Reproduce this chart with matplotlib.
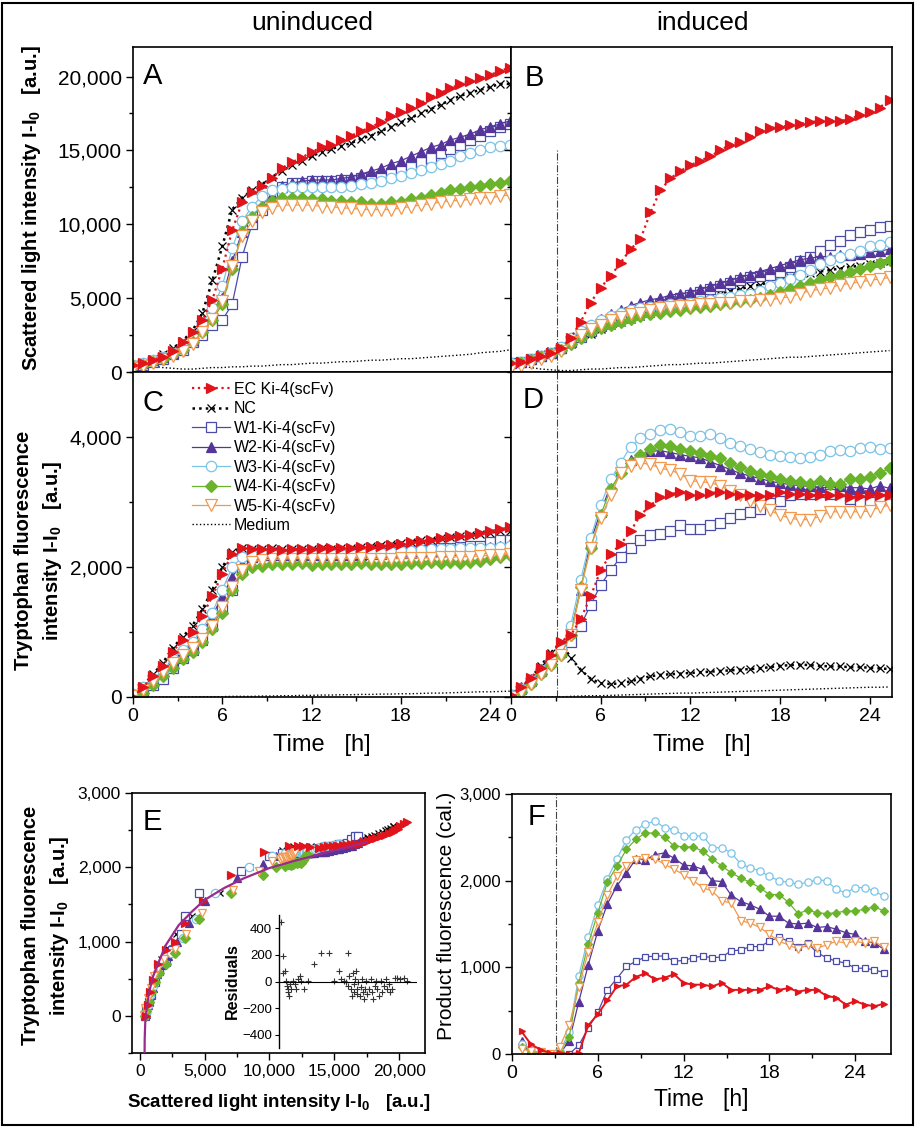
import numpy as np
import matplotlib
matplotlib.use("Agg")
import matplotlib.pyplot as plt
from matplotlib.patches import Rectangle
from matplotlib.ticker import MultipleLocator, FuncFormatter

plt.rcParams["font.family"] = ["Liberation Sans", "DejaVu Sans"]
plt.rcParams["mathtext.fontset"] = "custom"
plt.rcParams["mathtext.rm"] = "Liberation Sans"
plt.rcParams["mathtext.it"] = "Liberation Sans:italic"
plt.rcParams["mathtext.bf"] = "Liberation Sans:bold"

# sampling every 40 min (A-D start at 0 h, F starts at 40 min)
T = np.arange(39) * 40 / 60
T_F = (np.arange(39) + 1) * 40 / 60
INDUCTION_H = 3.1
B_LINE_TOP = 15000

SERIES = ["EC", "NC", "W1", "W2", "W3", "W4", "W5", "MED"]
LABELS = ["EC Ki-4(scFv)", "NC", "W1-Ki-4(scFv)", "W2-Ki-4(scFv)",
          "W3-Ki-4(scFv)", "W4-Ki-4(scFv)", "W5-Ki-4(scFv)", "Medium"]

# --- A: scattered light, uninduced [x1000 a.u.] ---
A_EC = [0.5, 0.6, 0.8, 1.0, 1.4, 2.0, 2.7, 3.5, 4.9, 7.0, 9.6, 11.5, 12.2, 12.6, 13.1, 13.8, 14.2, 14.5, 14.9, 15.2,
        15.4, 15.7, 16.0, 16.3, 16.6, 16.9, 17.3, 17.6, 17.9, 18.2, 18.6, 18.9, 19.2, 19.5, 19.7, 19.9, 20.1, 20.4, 20.6]
A_NC = [0.5, 0.6, 0.9, 1.2, 1.6, 2.1, 2.8, 4.0, 6.2, 8.5, 11.0, 11.8, 12.3, 12.7, 13.2, 13.6, 14.0, 14.3, 14.6, 14.9,
        15.1, 15.3, 15.5, 15.8, 16.0, 16.3, 16.6, 16.9, 17.2, 17.5, 17.8, 18.1, 18.4, 18.7, 18.9, 19.1, 19.3, 19.5, 19.5]
A_W1 = [0.4, 0.5, 0.7, 0.9, 1.2, 1.5, 2.0, 2.5, 3.2, 3.5, 4.6, 7.8, 10.0, 11.0, 11.8, 12.5, 12.8, 12.8, 12.9, 12.9,
        12.9, 13.0, 13.0, 13.1, 13.2, 13.3, 13.5, 13.7, 13.9, 14.2, 14.5, 14.8, 15.1, 15.4, 15.7, 16.0, 16.3, 16.6, 16.8]
A_W2 = [0.5, 0.6, 0.8, 1.0, 1.3, 1.7, 2.2, 2.9, 3.8, 5.0, 7.5, 9.5, 10.5, 11.3, 12.0, 12.6, 12.8, 12.9, 13.0, 13.0,
        13.0, 13.1, 13.2, 13.4, 13.6, 13.8, 14.1, 14.3, 14.6, 14.9, 15.2, 15.4, 15.7, 15.9, 16.1, 16.4, 16.6, 16.8, 17.0]
A_W3 = [0.5, 0.6, 0.8, 1.0, 1.3, 1.7, 2.4, 3.3, 4.3, 5.8, 8.4, 10.2, 11.2, 11.9, 12.3, 12.4, 12.5, 12.5, 12.5, 12.5,
        12.5, 12.5, 12.6, 12.7, 12.8, 12.9, 13.1, 13.3, 13.5, 13.7, 13.9, 14.1, 14.3, 14.6, 14.8, 15.0, 15.2, 15.3, 15.4]
A_W4 = [0.4, 0.5, 0.7, 0.9, 1.2, 1.5, 2.0, 2.7, 3.5, 4.6, 7.0, 9.5, 10.5, 11.2, 11.6, 11.8, 11.8, 11.8, 11.7, 11.7,
        11.6, 11.6, 11.5, 11.5, 11.4, 11.4, 11.5, 11.5, 11.7, 11.8, 12.0, 12.1, 12.3, 12.4, 12.5, 12.6, 12.7, 12.8, 12.9]
A_W5 = [0.3, 0.4, 0.6, 0.9, 1.1, 1.4, 1.9, 2.7, 3.6, 4.8, 7.2, 9.2, 10.2, 10.8, 11.1, 11.3, 11.3, 11.3, 11.3, 11.2,
        11.2, 11.1, 11.1, 11.0, 11.0, 11.0, 11.0, 11.1, 11.2, 11.3, 11.4, 11.5, 11.6, 11.6, 11.7, 11.8, 11.8, 11.9, 12.0]
A_MED = [0.6, 0.5, 0.4, 0.3, 0.25, 0.2, 0.2, 0.25, 0.3, 0.3, 0.35, 0.35, 0.4, 0.4, 0.45, 0.5, 0.5, 0.55, 0.6, 0.6,
         0.65, 0.7, 0.7, 0.75, 0.8, 0.8, 0.85, 0.9, 0.9, 0.95, 1.0, 1.05, 1.1, 1.15, 1.2, 1.3, 1.35, 1.4, 1.5]

# --- B: scattered light, induced [x1000 a.u.] ---
B_EC = [0.6, 0.7, 0.9, 1.1, 1.3, 1.6, 2.3, 3.4, 4.7, 5.7, 6.5, 7.4, 8.3, 9.0, 10.8, 12.3, 13.1, 13.6, 14.0, 14.3,
        14.6, 15.0, 15.4, 15.6, 15.9, 16.3, 16.5, 16.6, 16.7, 16.8, 16.9, 17.0, 17.0, 17.0, 17.1, 17.4, 17.6, 17.9, 18.4]
B_NC = [0.6, 0.7, 0.9, 1.2, 1.4, 1.6, 1.9, 2.3, 2.6, 2.9, 3.2, 3.4, 3.6, 3.8, 4.0, 4.2, 4.3, 4.5, 4.7, 4.9,
        5.1, 5.3, 5.5, 5.6, 5.8, 5.9, 6.1, 6.3, 6.4, 6.6, 6.7, 6.8, 6.9, 7.0, 7.1, 7.2, 7.3, 7.4, 7.5]
B_W1 = [0.6, 0.7, 0.9, 1.1, 1.3, 1.6, 2.0, 2.4, 2.8, 3.1, 3.4, 3.7, 4.0, 4.2, 4.4, 4.6, 4.8, 5.0, 5.2, 5.4,
        5.6, 5.8, 6.0, 6.2, 6.4, 6.5, 6.6, 6.8, 7.1, 7.5, 7.8, 8.2, 8.6, 8.9, 9.3, 9.5, 9.6, 9.8, 9.9]
B_W2 = [0.6, 0.7, 0.9, 1.1, 1.3, 1.6, 2.1, 2.7, 3.2, 3.6, 3.9, 4.2, 4.5, 4.7, 4.9, 5.0, 5.2, 5.3, 5.4, 5.6,
        5.8, 6.0, 6.2, 6.4, 6.6, 6.8, 7.0, 7.2, 7.4, 7.6, 7.7, 7.8, 7.8, 7.9, 7.9, 8.0, 8.1, 8.2, 8.3]
B_W3 = [0.6, 0.7, 0.9, 1.1, 1.3, 1.7, 2.3, 2.8, 3.2, 3.5, 3.8, 4.0, 4.2, 4.3, 4.4, 4.5, 4.6, 4.6, 4.7, 4.8,
        4.9, 5.0, 5.1, 5.2, 5.3, 5.5, 5.8, 6.0, 6.3, 6.6, 6.9, 7.3, 7.6, 7.8, 8.0, 8.2, 8.5, 8.6, 8.8]
B_W4 = [0.5, 0.6, 0.8, 1.0, 1.2, 1.5, 1.9, 2.3, 2.7, 3.0, 3.2, 3.4, 3.6, 3.8, 3.9, 4.0, 4.1, 4.2, 4.3, 4.4,
        4.5, 4.6, 4.7, 4.8, 4.9, 5.0, 5.2, 5.4, 5.6, 5.8, 6.0, 6.2, 6.4, 6.6, 6.8, 7.0, 7.2, 7.4, 7.6]
B_W5 = [0.3, 0.4, 0.6, 0.9, 1.1, 1.4, 2.0, 2.5, 2.9, 3.2, 3.5, 3.7, 3.9, 4.0, 4.2, 4.3, 4.4, 4.5, 4.5, 4.6,
        4.6, 4.7, 4.7, 4.8, 4.8, 4.9, 4.9, 5.0, 5.1, 5.3, 5.5, 5.6, 5.7, 5.9, 6.0, 6.1, 6.2, 6.3, 6.4]
B_MED = [0.6, 0.4, 0.3, 0.2, 0.15, 0.1, 0.1, 0.15, 0.2, 0.2, 0.25, 0.3, 0.3, 0.35, 0.4, 0.45, 0.5, 0.5, 0.55, 0.6,
         0.6, 0.65, 0.7, 0.75, 0.8, 0.85, 0.9, 0.95, 1.0, 1.0, 1.05, 1.1, 1.15, 1.2, 1.25, 1.3, 1.35, 1.4, 1.45]

# --- C: tryptophan fluorescence, uninduced [a.u.] ---
C_EC = [0, 150, 320, 480, 700, 880, 1000, 1250, 1550, 1900, 2200, 2290, 2280, 2280, 2270, 2260, 2270, 2280, 2280, 2290,
        2290, 2300, 2300, 2310, 2310, 2320, 2340, 2360, 2380, 2400, 2420, 2440, 2460, 2480, 2500, 2520, 2550, 2580, 2610]
C_NC = [50, 170, 350, 520, 760, 920, 1100, 1350, 1650, 2000, 2230, 2290, 2270, 2280, 2290, 2270, 2270, 2280, 2270, 2290,
        2280, 2300, 2300, 2310, 2320, 2340, 2350, 2370, 2390, 2410, 2420, 2440, 2460, 2480, 2500, 2510, 2530, 2550, 2560]
C_W1 = [0, 80, 180, 280, 450, 600, 720, 880, 1100, 1350, 1650, 1950, 2150, 2190, 2200, 2200, 2190, 2190, 2200, 2190,
        2200, 2190, 2200, 2200, 2210, 2220, 2230, 2240, 2250, 2260, 2280, 2290, 2300, 2310, 2320, 2330, 2380, 2420, 2420]
C_W2 = [30, 150, 280, 380, 560, 680, 800, 1000, 1250, 1550, 1850, 2050, 2150, 2180, 2190, 2190, 2190, 2190, 2190, 2190,
        2190, 2190, 2190, 2190, 2200, 2200, 2210, 2210, 2220, 2230, 2240, 2250, 2260, 2270, 2280, 2290, 2310, 2330, 2350]
C_W3 = [40, 150, 280, 400, 580, 720, 850, 1050, 1300, 1650, 2000, 2150, 2190, 2200, 2210, 2200, 2200, 2200, 2200, 2200,
        2200, 2200, 2200, 2210, 2210, 2220, 2230, 2240, 2250, 2260, 2270, 2280, 2280, 2290, 2290, 2300, 2300, 2310, 2320]
C_W4 = [0, 60, 180, 320, 450, 580, 700, 850, 1050, 1300, 1650, 1900, 2000, 2020, 2040, 2050, 2040, 2060, 2030, 2050,
        2040, 2050, 2040, 2060, 2040, 2050, 2050, 2040, 2060, 2060, 2070, 2060, 2070, 2060, 2080, 2100, 2120, 2150, 2180]
C_W5 = [10, 110, 240, 380, 530, 640, 760, 900, 1100, 1380, 1700, 1950, 2080, 2110, 2120, 2120, 2130, 2130, 2130, 2130,
        2130, 2130, 2130, 2140, 2130, 2130, 2130, 2140, 2140, 2140, 2140, 2150, 2150, 2160, 2160, 2170, 2180, 2190, 2200]
C_MED = [0, 0, 0, 0, 0, 0, 0, 5, 5, 5, 10, 10, 10, 15, 15, 20, 20, 25, 25, 30,
         30, 35, 35, 40, 40, 45, 45, 50, 50, 55, 60, 60, 65, 70, 75, 80, 80, 85, 90]

# --- D: tryptophan fluorescence, induced [a.u.] ---
D_EC = [30, 150, 300, 450, 650, 850, 950, 1200, 1550, 1950, 2200, 2350, 2550, 2800, 2950, 3070, 3120, 3150, 3110, 3100,
        3140, 3150, 3120, 3100, 3100, 3090, 3110, 3150, 3130, 3120, 3110, 3100, 3110, 3100, 3080, 3090, 3100, 3110, 3100]
D_NC = [20, 150, 300, 480, 680, 850, 600, 420, 280, 210, 200, 210, 240, 280, 320, 340, 350, 360, 370, 380,
        390, 400, 410, 420, 430, 440, 460, 480, 490, 500, 490, 480, 470, 470, 460, 460, 450, 440, 430]
D_W1 = [30, 120, 250, 400, 560, 700, 850, 1100, 1420, 1720, 1950, 2150, 2300, 2420, 2500, 2510, 2560, 2640, 2590, 2590,
        2640, 2670, 2750, 2820, 2850, 2890, 2980, 3020, 3100, 3130, 3130, 3150, 3130, 3170, 3050, 3000, 3000, 3050, 3080]
D_W2 = [50, 150, 280, 430, 600, 720, 1000, 1650, 2400, 2850, 3250, 3500, 3650, 3730, 3780, 3790, 3760, 3730, 3700, 3680,
        3620, 3560, 3500, 3440, 3400, 3360, 3320, 3290, 3270, 3250, 3240, 3230, 3300, 3250, 3220, 3220, 3200, 3250, 3210]
D_W3 = [30, 130, 260, 420, 580, 760, 1100, 1800, 2450, 2950, 3350, 3600, 3850, 3980, 4050, 4100, 4120, 4080, 4010, 4010,
        4050, 3990, 3910, 3860, 3810, 3770, 3720, 3700, 3690, 3680, 3690, 3730, 3780, 3800, 3790, 3830, 3840, 3820, 3830]
D_W4 = [0, 80, 200, 350, 500, 650, 950, 1700, 2300, 2800, 3200, 3450, 3600, 3720, 3820, 3870, 3860, 3820, 3790, 3760,
        3700, 3670, 3600, 3540, 3480, 3430, 3400, 3360, 3320, 3300, 3270, 3320, 3280, 3280, 3360, 3360, 3390, 3440, 3520]
D_W5 = [0, 80, 200, 350, 500, 650, 950, 1650, 2300, 2750, 3100, 3450, 3550, 3600, 3580, 3520, 3490, 3430, 3330, 3310,
        3300, 3250, 3170, 3100, 3020, 2940, 2870, 2800, 2750, 2730, 2730, 2780, 2850, 2850, 2850, 2850, 2860, 2920, 2950]
D_MED = [0, 0, 0, 0, 0, 0, 10, 15, 20, 20, 25, 30, 35, 40, 45, 50, 55, 60, 60, 65,
         70, 75, 80, 85, 90, 95, 100, 105, 110, 115, 120, 125, 130, 135, 140, 145, 150, 150, 155]

# --- F: product fluorescence (calculated) ---
F_EC = [260, 110, 50, 10, 10, 0, 10, 330, 460, 620, 780, 800, 890, 930, 860, 880, 920, 820, 800, 800,
        780, 820, 740, 740, 740, 740, 780, 740, 760, 720, 740, 740, 670, 650, 570, 610, 570, 550, 580]
F_W1 = [100, 30, 20, 0, 0, 0, 100, 300, 480, 740, 870, 1010, 1070, 1120, 1130, 1130, 1070, 1080, 1110, 1130,
        1110, 1120, 1190, 1200, 1240, 1240, 1300, 1350, 1300, 1240, 1280, 1170, 1110, 1070, 1050, 990, 990, 970, 940]
F_W2 = [150, 30, 0, 0, 0, 150, 600, 1030, 1420, 1730, 1940, 2090, 2250, 2240, 2300, 2320, 2260, 2180, 2170, 2130,
        2000, 1990, 1830, 1760, 1720, 1670, 1590, 1590, 1510, 1500, 1510, 1460, 1470, 1440, 1400, 1380, 1300, 1280, 1210]
F_W3 = [120, 40, 20, 0, 30, 250, 900, 1350, 1720, 2020, 2250, 2470, 2590, 2650, 2690, 2610, 2590, 2520, 2510, 2520,
        2380, 2380, 2320, 2190, 2150, 2110, 2050, 2000, 1980, 1960, 1980, 2010, 2000, 1900, 1860, 1920, 1920, 1880, 1820]
F_W4 = [80, 20, 0, 0, 20, 200, 820, 1270, 1630, 1980, 2170, 2360, 2480, 2550, 2550, 2500, 2400, 2390, 2390, 2340,
        2250, 2170, 2090, 2030, 1980, 1920, 1840, 1840, 1750, 1620, 1660, 1630, 1620, 1630, 1650, 1650, 1670, 1700, 1650]
F_W5 = [60, 30, 20, 0, 80, 330, 770, 1180, 1520, 1830, 2050, 2170, 2240, 2260, 2250, 2190, 2130, 2070, 2000, 1920,
        1880, 1770, 1740, 1540, 1510, 1460, 1380, 1300, 1260, 1210, 1260, 1220, 1260, 1300, 1280, 1300, 1280, 1300, 1230]

# --- E: fit of tryptophan vs scattered light, and its residuals ---
FIT_X = [370, 380, 420, 500, 700, 1000, 1500, 2000, 3000, 4000, 5000, 6500, 8000, 10000, 12000, 14000, 16000, 17500]
FIT_Y = [-500, -300, -100, 50, 300, 520, 740, 950, 1220, 1400, 1560, 1720, 1850, 1990, 2090, 2180, 2270, 2340]
RES_X = [100, 360, 470, 730, 830, 990, 1140, 1250, 1400, 1560, 1760, 2020, 2280, 2540, 2800, 3060, 3320, 3740, 4360,
         5290, 6440, 7730, 8510, 9290, 9550, 10070, 10330, 10590, 10590, 10850, 11110, 11210, 11370, 11520, 11630,
         11780, 11890, 12040, 12140, 12300, 12460, 12660, 12820, 12980, 13180, 13340, 13490, 13700, 13960, 14220,
         14480, 14640, 14840, 15050, 15260, 15520, 15780, 16040, 16300, 16560, 16820, 17080, 17330, 17590, 18110,
         18370, 18890, 19410, 19930]
RES_Y = [450, 190, 67, 79, 5, -32, -81, -57, -106, -20, -57, 5, -20, -57, 17, 42, 5, -57, 5,
         128, 215, 215, 5, 79, 17, 5, -7, 215, -32, 42, -57, -106, 67, -20, -81,
         17, 79, -57, -94, -7, -106, -44, 17, -81, -131, -57, 5, -94, -57, 17,
         -81, -131, -32, 5, -57, -106, 5, -81, -32, 17, -57, -20, -81, -57, 30,
         30, 17, 30, 5]

PANEL_A = dict(zip(SERIES, [A_EC, A_NC, A_W1, A_W2, A_W3, A_W4, A_W5, A_MED]))
PANEL_B = dict(zip(SERIES, [B_EC, B_NC, B_W1, B_W2, B_W3, B_W4, B_W5, B_MED]))
PANEL_C = dict(zip(SERIES, [C_EC, C_NC, C_W1, C_W2, C_W3, C_W4, C_W5, C_MED]))
PANEL_D = dict(zip(SERIES, [D_EC, D_NC, D_W1, D_W2, D_W3, D_W4, D_W5, D_MED]))
PANEL_F = dict(zip(["EC", "W1", "W2", "W3", "W4", "W5"], [F_EC, F_W1, F_W2, F_W3, F_W4, F_W5]))

# styles: colour, marker, filled, linestyle, linewidth, markersize
STYLE = {
    "EC":  ("#E2141B", ">", True,  ":", 1.6, 7.0),
    "NC":  ("black",   "x", False, ":", 1.8, 5.5),
    "W1":  ("#4B4BAA", "s", False, "-", 0.9, 6.5),
    "W2":  ("#56359A", "^", True,  "-", 0.9, 7.5),
    "W3":  ("#7AC4E8", "o", False, "-", 0.9, 7.5),
    "W4":  ("#6AB42C", "D", True,  "-", 0.9, 6.5),
    "W5":  ("#F2994F", "v", False, "-", 0.9, 8.0),
    "MED": ("black",   "",  False, ":", 1.0, 0),
}
DRAW_ORDER = ["MED", "NC", "W1", "W2", "W3", "W4", "W5", "EC"]


def draw(ax, x, y, key, scale=1.0, ms=1.0, ls=None, lw=None):
    col, mk, filled, style, width, size = STYLE[key]
    y = np.asarray(y, dtype=float) * scale
    return ax.plot(x[:len(y)], y, color=col, ls=ls or style, lw=lw or width,
                   marker=mk, ms=size * ms,
                   mfc=col if filled or mk == "x" else "white", mec=col,
                   mew=0.9)[0]


def thousands(v, pos):
    return f"{v:,.0f}"


def style_axes(ax, xmaj, xmin, ymaj, ymin, xlab=True, ylab=True, xsize=14, ysize=15):
    ax.xaxis.set_major_locator(MultipleLocator(xmaj))
    ax.xaxis.set_minor_locator(MultipleLocator(xmin))
    ax.yaxis.set_major_locator(MultipleLocator(ymaj))
    ax.yaxis.set_minor_locator(MultipleLocator(ymin))
    ax.xaxis.set_major_formatter(FuncFormatter(thousands))
    ax.yaxis.set_major_formatter(FuncFormatter(thousands))
    ax.tick_params(which="both", direction="out", width=1, pad=3,
                   top=False, right=False, labelbottom=xlab, labelleft=ylab)
    ax.tick_params(axis="x", labelsize=xsize)
    ax.tick_params(axis="y", labelsize=ysize)
    ax.tick_params(which="major", length=5)
    ax.tick_params(which="minor", length=3)
    for s in ax.spines.values():
        s.set_linewidth(1.2)


W, H = 916, 1127


def box(left, top, right, bottom):
    return [left / W, 1 - bottom / H, (right - left) / W, (bottom - top) / H]


fig = plt.figure(figsize=(W / 100, H / 100), dpi=100)
ax_a = fig.add_axes(box(133, 47, 511, 372))
ax_b = fig.add_axes(box(511, 47, 892, 372))
ax_c = fig.add_axes(box(133, 372, 511, 697))
ax_d = fig.add_axes(box(511, 372, 892, 697))
ax_e = fig.add_axes(box(132, 793, 425, 1053))
ax_f = fig.add_axes(box(512, 794, 891, 1054))
ax_r = fig.add_axes(box(279, 915, 417, 1048))

# ── A-D time courses ─────────────────────────────────────────────
handles = {}
for ax, data, scale in [(ax_a, PANEL_A, 1000), (ax_b, PANEL_B, 1000),
                        (ax_c, PANEL_C, 1), (ax_d, PANEL_D, 1)]:
    for key in DRAW_ORDER:
        ln = draw(ax, T, data[key], key, scale=scale)
        if ax is ax_c:
            handles[key] = ln

ax_a.set_xlim(0, 25.4)
ax_c.set_xlim(0, 25.4)
ax_b.set_xlim(0, 25.5)
ax_d.set_xlim(0, 25.5)
for ax in (ax_a, ax_b):
    ax.set_ylim(0, 22000)
for ax in (ax_c, ax_d):
    ax.set_ylim(0, 5000)

style_axes(ax_a, 6, 3, 5000, 2500, xlab=False)
style_axes(ax_b, 6, 3, 5000, 2500, xlab=False, ylab=False)
style_axes(ax_c, 6, 3, 2000, 1000)
style_axes(ax_d, 6, 3, 2000, 1000, ylab=False)

ax_b.vlines(INDUCTION_H, 0, B_LINE_TOP, colors="#444444", linestyles="-.", lw=0.8, zorder=1)
ax_d.axvline(INDUCTION_H, color="#444444", ls="-.", lw=0.8, zorder=1)

ax_a.set_ylabel(r"Scattered light intensity I-I$_\mathbf{0}$   [a.u.]", fontsize=14.5, fontweight="bold")
ax_a.yaxis.set_label_coords(-0.238, 0.505)
ax_c.set_ylabel("Tryptophan fluorescence\n" + r"intensity I-I$_\mathbf{0}$   [a.u.]",
                fontsize=14.5, fontweight="bold", linespacing=1.45)
ax_c.yaxis.set_label_coords(-0.183, 0.45)
for ax in (ax_c, ax_d):
    ax.set_xlabel("Time   [h]", fontsize=17)
    ax.xaxis.set_label_coords(0.5, -0.115)

ax_c.legend([handles[k] for k in SERIES], LABELS, loc="upper left", bbox_to_anchor=(0.155, 0.97),
            frameon=False, fontsize=11.5, handlelength=2.4, handletextpad=0.25, labelspacing=0.28,
            borderpad=0, borderaxespad=0, numpoints=1)

fig.text(312 / W, 1 - 23 / H, "uninduced", ha="center", va="center", fontsize=19)
fig.text(703 / W, 1 - 23 / H, "induced", ha="center", va="center", fontsize=19)

for ax, letter, x, y in [(ax_a, "A", 0.026, 0.911), (ax_b, "B", 0.035, 0.905), (ax_c, "C", 0.026, 0.906),
                         (ax_d, "D", 0.03, 0.914), (ax_e, "E", 0.037, 0.89), (ax_f, "F", 0.04, 0.91)]:
    ax.text(x, y, letter, transform=ax.transAxes, ha="left", va="center", fontsize=21)

# ── E: tryptophan vs scattered light ─────────────────────────────
for key in ["NC", "W1", "W2", "W3", "W4", "W5", "EC"]:
    draw(ax_e, np.asarray(PANEL_A[key]) * 1000, PANEL_C[key], key, ms=0.8, ls="none")
ax_e.plot(FIT_X, FIT_Y, color="#9C2A8E", lw=1.6, zorder=5)
ax_e.set_xlim(-600, 22000)
ax_e.set_ylim(-500, 3000)
style_axes(ax_e, 5000, 2500, 1000, 500, xsize=12.5, ysize=12.5)
ax_e.set_ylabel("Tryptophan fluorescence\n" + r"intensity I-I$_\mathbf{0}$   [a.u.]",
                fontsize=14.5, fontweight="bold", linespacing=1.45)
ax_e.yaxis.set_label_coords(-0.208, 0.49)
ax_e.set_xlabel(r"Scattered light intensity I-I$_\mathbf{0}$   [a.u.]", fontsize=13.5, fontweight="bold")
ax_e.xaxis.set_label_coords(0.5, -0.15)

# inset residuals
ax_r.set_facecolor("none")
ax_r.plot(RES_X, RES_Y, ls="none", marker="+", ms=5, mew=0.8, color="#333333")
ax_r.axhline(0, color="black", lw=0.8)
ax_r.set_xlim(-200, 21500)
ax_r.set_ylim(-500, 500)
for s in ["top", "right", "bottom"]:
    ax_r.spines[s].set_visible(False)
ax_r.spines["left"].set_linewidth(1.0)
ax_r.set_xticks([])
ax_r.yaxis.set_major_locator(MultipleLocator(200))
ax_r.tick_params(axis="y", direction="out", labelsize=9.5, length=3, pad=2)
ax_r.set_ylabel("Residuals", fontsize=11.5, fontweight="bold", labelpad=2)

# ── F: product fluorescence ──────────────────────────────────────
for key in ["W1", "W2", "W3", "W4", "W5", "EC"]:
    draw(ax_f, T_F, PANEL_F[key], key, ms=0.7, ls="-", lw=1.4 if key == "EC" else 0.9)
ax_f.axvline(INDUCTION_H, color="#444444", ls="-.", lw=0.8, zorder=1)
ax_f.set_xlim(0, 26.5)
ax_f.set_ylim(0, 3000)
style_axes(ax_f, 6, 3, 1000, 500, xsize=14, ysize=12)
ax_f.set_ylabel("Product fluorescence (cal.)", fontsize=15)
ax_f.yaxis.set_label_coords(-0.148, 0.53)
ax_f.set_xlabel("Time   [h]", fontsize=16.5)
ax_f.xaxis.set_label_coords(0.5, -0.13)

fig.patches.append(Rectangle((0.002, 0.002), 0.995, 0.995, transform=fig.transFigure,
                             fill=False, lw=1.5, ec="black"))

fig.savefig("out.png", dpi=100)
plt.close(fig)
